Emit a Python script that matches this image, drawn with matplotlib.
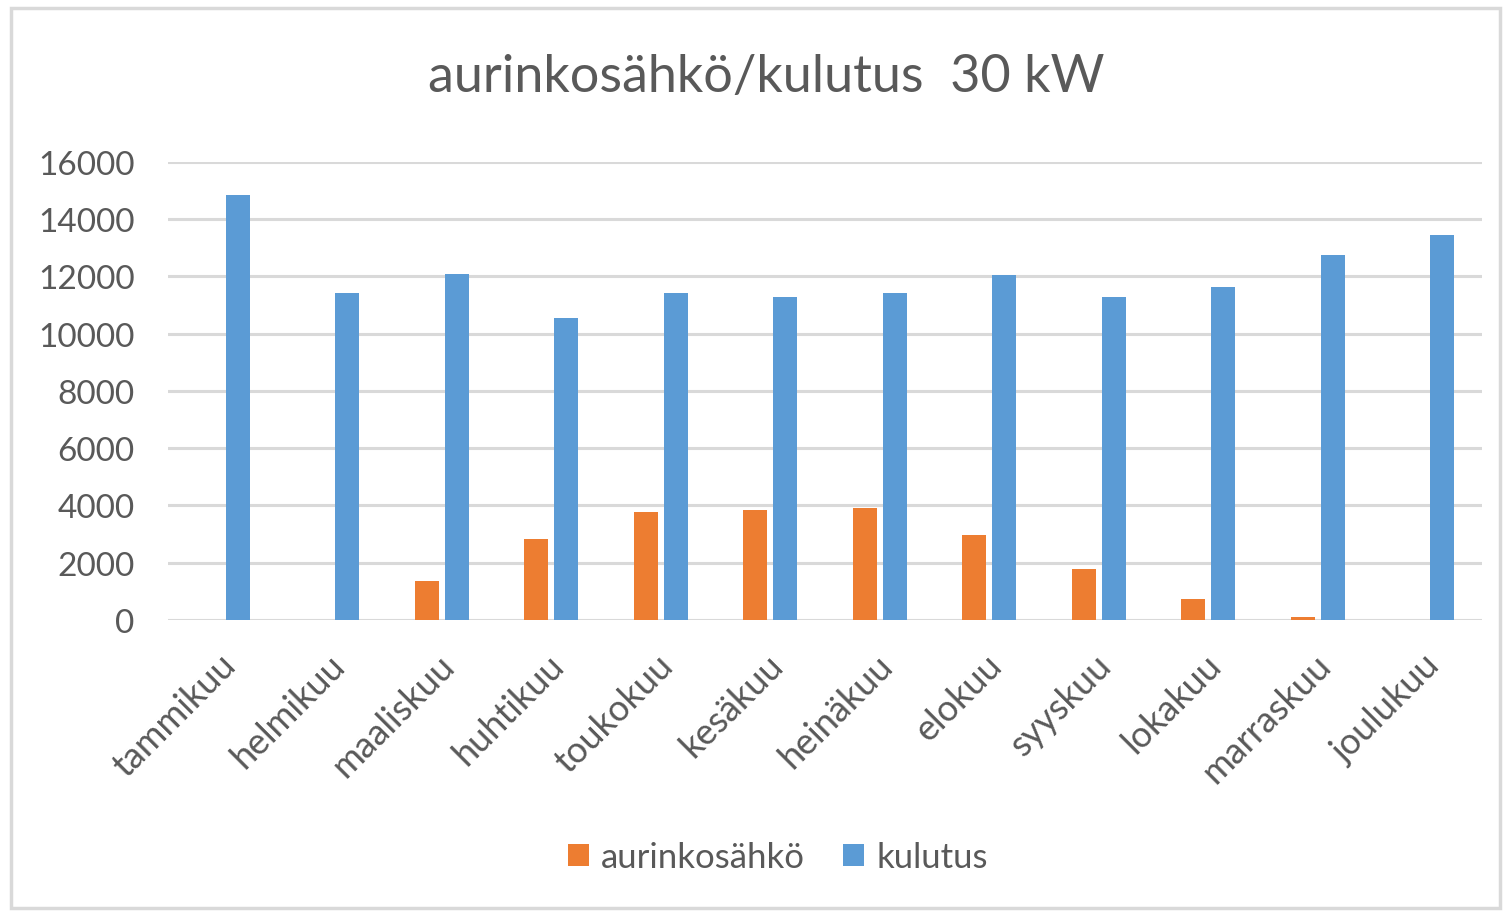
import numpy as np
import matplotlib
matplotlib.use("Agg")
import matplotlib.pyplot as plt
from matplotlib.patches import Rectangle

# monthly data (kWh)
months = ['tammikuu', 'helmikuu', 'maaliskuu', 'huhtikuu', 'toukokuu', 'kesäkuu',
          'heinäkuu', 'elokuu', 'syyskuu', 'lokakuu', 'marraskuu', 'joulukuu']
aurinkosahko = [0, 0, 1350, 2830, 3780, 3850, 3910, 2970, 1790, 740, 110, 0]
kulutus = [14850, 11440, 12080, 10540, 11420, 11280, 11420, 12060, 11270, 11620, 12740, 13450]
y_ticks = [0, 2000, 4000, 6000, 8000, 10000, 12000, 14000, 16000]

plt.rcParams['font.family'] = ['Lato', 'DejaVu Sans']
text_color = '#595959'
orange = '#ED7D31'
blue = '#5B9BD5'

fig = plt.figure(figsize=(15.08, 9.12), dpi=100)
fig.patches.append(Rectangle((0.007, 0.003), 0.988, 0.987, transform=fig.transFigure,
                             fill=False, edgecolor='#D9D9D9', linewidth=2.5))

ax = fig.add_axes([0.1114, 0.3191, 0.8714, 0.5022])
x = np.arange(len(months))
w = 0.22
off = 0.137
ax.bar(x - off, aurinkosahko, w, color=orange, label='aurinkosähkö', zorder=3)
ax.bar(x + off, kulutus, w, color=blue, label='kulutus', zorder=3)

ax.set_xlim(-0.5, len(months) - 0.5)
ax.set_ylim(0, 16000)
ax.set_yticks(y_ticks)
ax.set_yticklabels([str(v) for v in y_ticks])
ax.grid(axis='y', color='#D9D9D9', linewidth=2.2, zorder=0)
for s in ax.spines.values():
    s.set_visible(False)
ax.tick_params(axis='y', length=0, pad=24, labelsize=24, labelcolor=text_color)
ax.tick_params(axis='x', length=0, pad=20, labelsize=26, labelcolor=text_color)
ax.set_xticks(x - 0.04)
ax.set_xticklabels(months, rotation=45, ha='right', rotation_mode='anchor')

fig.text(0.508, 0.915, 'aurinkosähkö/kulutus  30 kW', ha='center', va='center',
         fontsize=37.5, color=text_color)

fig.legend(loc='center', bbox_to_anchor=(0.516, 0.059), ncol=2, frameon=False,
           fontsize=25, labelcolor=text_color, handlelength=0.6, handleheight=0.6,
           handletextpad=0.35, columnspacing=1.1)

fig.savefig('out.png', dpi=100, facecolor='white')
